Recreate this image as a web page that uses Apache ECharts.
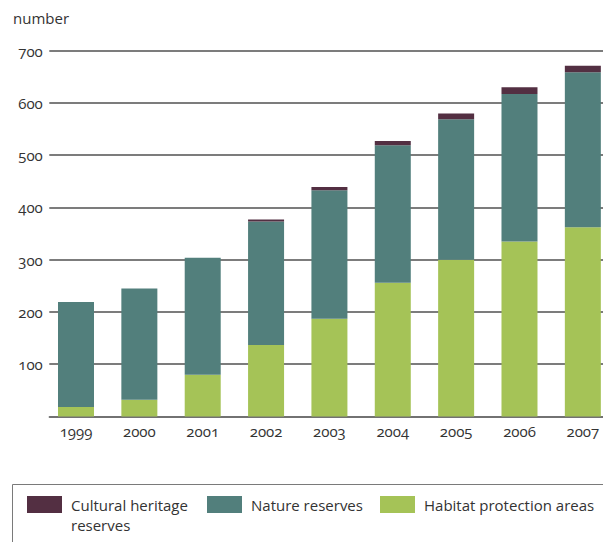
<!DOCTYPE html>
<html>
<head>
<meta charset="utf-8">
<script src="https://cdn.jsdelivr.net/npm/echarts@6/dist/echarts.min.js"></script>
<style>
  html, body { margin: 0; padding: 0; background: #fff; }
  #chart { width: 603px; height: 542px; }
  /* old-style figures where the font offers them */
  #chart svg text {
    font-variant-numeric: oldstyle-nums !important;
    font-feature-settings: "onum" 1 !important;
  }
</style>
</head>
<body>
<div id="chart"></div>
<script>
// Protected areas per year, number
const years = ['1999', '2000', '2001', '2002', '2003', '2004', '2005', '2006', '2007'];
const habitatProtection = [18, 32, 80, 137, 187, 256, 300, 335, 362];
const natureReserves = [201, 213, 224, 236, 246, 263, 269, 282, 297];
const culturalHeritage = [0, 0, 0, 4, 6, 8, 11, 13, 12];
const yTicks = { min: 0, max: 700, interval: 100 };

const FONT = 'Open Sans';
const TEXT = '#333333';
const COLORS = {
  cultural: '#532f42',
  nature: '#527f7c',
  habitat: '#a5c357'
};

const plotTop = 50.7;
const plotBottom = 416.5;
const plotHeight = plotBottom - plotTop;
// centres of the first and last bar
const firstCentre = 76;
const lastCentre = 585;

const chart = echarts.init(document.getElementById('chart'), null, { renderer: 'svg' });

const barSeries = (name, data, color) => ({
  name: name,
  type: 'bar',
  stack: 'total',
  xAxisIndex: 1,
  yAxisIndex: 1,
  barWidth: 36,
  clip: false,
  data: data,
  itemStyle: { color: color },
  emphasis: { disabled: true }
});

// legend swatch: filled upper part, the lower part stays empty so the
// label's first line sits level with the swatch
const SWATCH = 'path://M0,0L35,0 M0,1.5H35V18.5H0Z M0,40L35,40';

chart.setOption({
  animation: false,
  textStyle: { fontFamily: FONT, color: TEXT },
  title: {
    text: 'number',
    left: 13,
    top: 10,
    padding: 0,
    textStyle: { fontFamily: FONT, fontSize: 15, fontWeight: 'normal', color: TEXT }
  },
  grid: [
    // frame for gridlines and value labels
    { left: 49.3, top: plotTop, height: plotHeight, right: 0 },
    // frame for the bars, one category per tick
    { left: firstCentre, top: plotTop, height: plotHeight, right: 603 - lastCentre }
  ],
  xAxis: [
    {
      gridIndex: 0,
      type: 'category',
      data: years,
      axisLine: { show: true, lineStyle: { color: '#6f6f6f', width: 1.5 } },
      axisTick: { show: false },
      axisLabel: { show: false },
      splitLine: { show: false }
    },
    {
      gridIndex: 1,
      type: 'category',
      boundaryGap: false,
      data: years,
      axisLine: { show: false },
      axisTick: { show: false },
      axisLabel: {
        margin: 7,
        fontFamily: FONT,
        fontSize: 15,
        color: TEXT
      },
      splitLine: { show: false }
    }
  ],
  yAxis: [
    {
      gridIndex: 0,
      type: 'value',
      min: yTicks.min,
      max: yTicks.max,
      interval: yTicks.interval,
      axisLine: { show: false },
      axisTick: { show: false },
      axisLabel: {
        margin: 6.5,
        fontFamily: FONT,
        fontSize: 15,
        color: TEXT,
        formatter: v => (v === 0 ? '' : String(v))
      },
      splitLine: { lineStyle: { color: '#505050', width: 1.5 } }
    },
    {
      gridIndex: 1,
      type: 'value',
      min: yTicks.min,
      max: yTicks.max,
      interval: yTicks.interval,
      show: false,
      splitLine: { show: false }
    }
  ],
  legend: {
    left: 27,
    top: 494.5,
    width: 700,
    padding: 0,
    itemWidth: 35,
    itemHeight: 40,
    itemGap: 0,
    icon: SWATCH,
    selectedMode: false,
    textStyle: {
      fontFamily: FONT,
      fontSize: 15,
      color: TEXT,
      lineHeight: 20,
      rich: { t: { fontFamily: FONT, fontSize: 15, color: TEXT, lineHeight: 20, padding: [0, 0, 0, 4] } }
    },
    formatter: name => (name === 'Cultural heritage reserves'
      ? '{t|Cultural heritage}\n{t|reserves}'
      : '{t|' + name + '}\n{t| }'),
    data: [
      { name: 'Cultural heritage reserves', textStyle: { width: 140 } },
      { name: 'Nature reserves', textStyle: { width: 133 } },
      { name: 'Habitat protection areas', textStyle: { width: 220 } }
    ]
  },
  graphic: [
    {
      type: 'rect',
      silent: true,
      shape: { x: 12.5, y: 484.5, width: 640, height: 100 },
      style: { fill: 'none', stroke: '#7a7a7a', lineWidth: 1 }
    }
  ],
  series: [
    barSeries('Habitat protection areas', habitatProtection, COLORS.habitat),
    barSeries('Nature reserves', natureReserves, COLORS.nature),
    barSeries('Cultural heritage reserves', culturalHeritage, COLORS.cultural)
  ]
});
</script>
</body>
</html>
